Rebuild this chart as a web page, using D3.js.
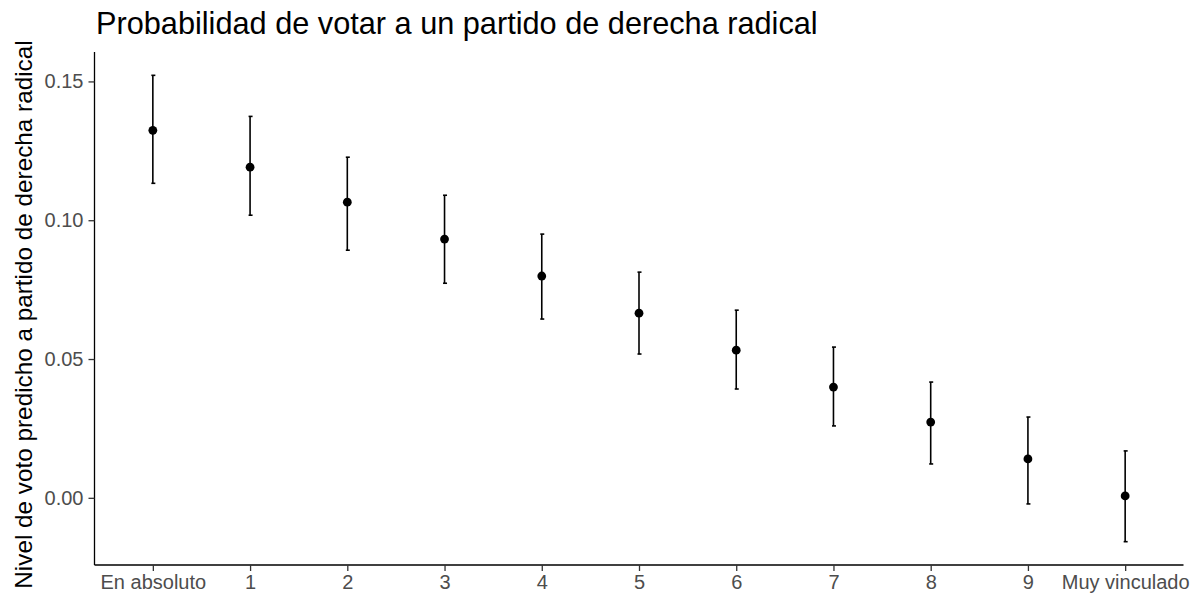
<!DOCTYPE html>
<html><head><meta charset="utf-8">
<script src="https://cdn.jsdelivr.net/npm/d3@7"></script>
<style>body{margin:0;background:#fff}svg{display:block}</style>
</head><body><svg id="c" width="1202" height="603"></svg>
<script>
const categories = ["En absoluto","1","2","3","4","5","6","7","8","9","Muy vinculado"];
const estimate = [0.1324,0.1191,0.1065,0.0932,0.0799,0.0665,0.0532,0.0399,0.0273,0.0140,0.0007];
const lower    = [0.1133,0.1018,0.0892,0.0773,0.0644,0.0518,0.0392,0.0259,0.0122,-0.0022,-0.0158];
const upper    = [0.1522,0.1374,0.1227,0.1090,0.0950,0.0813,0.0676,0.0543,0.0417,0.0291,0.0169];
const yTicks   = [0.00,0.05,0.10,0.15];
const title = "Probabilidad de votar a un partido de derecha radical";
const yTitle = "Nivel de voto predicho a partido de derecha radical";

const svg = d3.select("#c");
const L = 94.5, R = 1183.5, T = 52, B = 565;
const font = "'Liberation Sans', Arial, sans-serif";

const x = d3.scalePoint().domain(categories).range([L, R]).padding(0.6);
const lo = d3.min(lower), hi = d3.max(upper), ex = (hi - lo) * 0.05;
const y = d3.scaleLinear().domain([lo - ex, hi + ex]).range([B, T]);

const data = categories.map((c, i) => ({c, e: estimate[i], l: lower[i], u: upper[i]}));

// axes
const yAx = svg.append("g").attr("transform", `translate(${L},0)`)
  .call(d3.axisLeft(y).tickValues(yTicks).tickFormat(d3.format(".2f")).tickSize(6).tickPadding(5));
const xAx = svg.append("g").attr("transform", `translate(0,${B})`)
  .call(d3.axisBottom(x).tickSize(6).tickPadding(4));
[yAx, xAx].forEach(g => {
  g.select(".domain").attr("stroke", "#000").attr("stroke-width", 1.3);
  g.selectAll(".tick line").attr("stroke", "#333").attr("stroke-width", 1.3);
  g.selectAll(".tick text").attr("fill", "#4d4d4d").style("font-family", font).style("font-size", "20px");
});
yAx.select(".domain").attr("d", `M0,${B}V${T}`);
xAx.select(".domain").attr("d", `M${L},0H${R}`);

// error bars
const g = svg.append("g");
g.selectAll("line.eb").data(data).join("line")
  .attr("x1", d => x(d.c)).attr("x2", d => x(d.c))
  .attr("y1", d => y(d.l)).attr("y2", d => y(d.u))
  .attr("stroke", "#000").attr("stroke-width", 1.6);
["l","u"].forEach(k => {
  g.selectAll("line.cap" + k).data(data).join("line")
    .attr("x1", d => x(d.c) - 1.5).attr("x2", d => x(d.c) + 2.5)
    .attr("y1", d => y(d[k])).attr("y2", d => y(d[k]))
    .attr("stroke", "#000").attr("stroke-width", 1.6);
});
g.selectAll("circle").data(data).join("circle")
  .attr("cx", d => x(d.c)).attr("cy", d => y(d.e)).attr("r", 4.4).attr("fill", "#000");

// titles
svg.append("text").attr("x", 96).attr("y", 34).text(title)
  .style("font-family", font).style("font-size", "30.7px").attr("fill", "#000");
svg.append("text").attr("transform", `translate(32,${(T + B) / 2 + 6}) rotate(-90)`)
  .attr("text-anchor", "middle").text(yTitle)
  .style("font-family", font).style("font-size", "24.3px").attr("fill", "#000");
</script></body></html>
